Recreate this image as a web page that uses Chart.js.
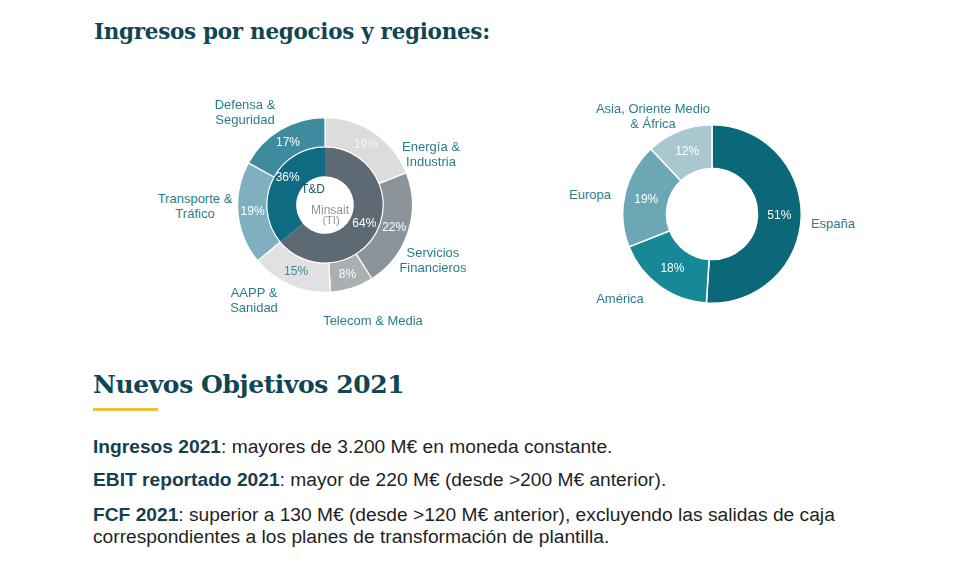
<!DOCTYPE html>
<html lang="es">
<head>
<meta charset="utf-8">
<title>Ingresos por negocios y regiones</title>
<script src="https://cdn.jsdelivr.net/npm/chart.js@4.4.1/dist/chart.umd.min.js"></script>
<style>
  html, body { margin: 0; padding: 0; background: #fff; }
  #page { position: relative; width: 959px; height: 567px; overflow: hidden; font-family: "Liberation Sans", Arial, sans-serif; }
  h1, h2 { position: absolute; margin: 0; font-family: "DejaVu Serif", Georgia, serif; font-weight: bold; color: #0f4654; white-space: nowrap; }
  h1 { left: 94px; top: 19px; font-size: 21.5px; letter-spacing: -0.3px; }
  h2 { left: 93px; top: 370px; font-size: 25px; letter-spacing: -0.4px; }
  .rule { position: absolute; left: 93px; top: 408px; width: 65px; height: 3px; background: #f2bf35; }
  canvas { position: absolute; }
  .lbl { position: absolute; transform: translate(-50%, -50%); text-align: center; color: #2b7d8c; font-size: 13px; line-height: 15px; white-space: nowrap; }
  .body { position: absolute; left: 93px; font-size: 19.2px; color: #1f1f1f; white-space: nowrap; line-height: 22px; }
  .body b { color: #16404d; }
</style>
</head>
<body>
<div id="page">
  <h1>Ingresos por negocios y regiones:</h1>

  <canvas id="negocios" width="176" height="176" style="left:237px;top:117px"></canvas>
  <canvas id="regiones" width="180" height="180" style="left:622px;top:124px"></canvas>

  <div class="lbl" style="left:245px;top:112px">Defensa &amp;<br>Seguridad</div>
  <div class="lbl" style="left:431px;top:154px">Energía &amp;<br>Industria</div>
  <div class="lbl" style="left:195px;top:206px">Transporte &amp;<br>Tráfico</div>
  <div class="lbl" style="left:433px;top:260px">Servicios<br>Financieros</div>
  <div class="lbl" style="left:254px;top:300px">AAPP &amp;<br>Sanidad</div>
  <div class="lbl" style="left:373px;top:320px">Telecom &amp; Media</div>

  <div class="lbl" style="left:653px;top:116px">Asia, Oriente Medio<br>&amp; África</div>
  <div class="lbl" style="left:590px;top:194px">Europa</div>
  <div class="lbl" style="left:833px;top:223px">España</div>
  <div class="lbl" style="left:620px;top:298px">América</div>

  <h2>Nuevos Objetivos 2021</h2>
  <div class="rule"></div>

  <div class="body" style="top:436px"><b>Ingresos 2021</b>: mayores de 3.200 M€ en moneda constante.</div>
  <div class="body" style="top:469px"><b>EBIT reportado 2021</b>: mayor de 220 M€ (desde &gt;200 M€ anterior).</div>
  <div class="body" style="top:504px"><b>FCF 2021</b>: superior a 130 M€ (desde &gt;120 M€ anterior), excluyendo las salidas de caja<br>correspondientes a los planes de transformación de plantilla.</div>
</div>

<script>
// Ingresos por negocio (anillo exterior), clockwise from 12 o'clock
const negocioLabels = ['Energía & Industria', 'Servicios Financieros', 'Telecom & Media', 'AAPP & Sanidad', 'Transporte & Tráfico', 'Defensa & Seguridad'];
const negocioValues = [19, 22, 8, 15, 19, 17];

// Segmentos (anillo interior)
const segmentoLabels = ['Minsait (TI)', 'T&D'];
const segmentoValues = [64, 36];

// Ingresos por región
const regionLabels = ['España', 'América', 'Europa', 'Asia, Oriente Medio & África'];
const regionValues = [51, 18, 19, 12];

const negocioColors = ['#dcdcdc', '#8a949a', '#aaafb2', '#e1e1e1', '#80b0c0', '#3f8b9e'];
const negocioText = ['#f6f6f6', '#ffffff', '#ffffff', '#3a8a9c', '#ffffff', '#ffffff'];
const segmentoColors = ['#5e6a73', '#0e6b82'];
const regionColors = ['#0b6878', '#168898', '#6ca7b5', '#a9c7ce'];

// writes the % value in the middle of each arc
const pctLabels = {
  id: 'pctLabels',
  afterDatasetsDraw(chart) {
    const ctx = chart.ctx;
    ctx.save();
    ctx.font = '12px "Liberation Sans", Arial, sans-serif';
    ctx.textAlign = 'center';
    ctx.textBaseline = 'middle';
    chart.data.datasets.forEach((ds, i) => {
      const meta = chart.getDatasetMeta(i);
      meta.data.forEach((arc, j) => {
        const p = arc.getCenterPoint();
        const dx = (ds.pctShift && ds.pctShift[j]) ? ds.pctShift[j][0] : 0;
        const dy = (ds.pctShift && ds.pctShift[j]) ? ds.pctShift[j][1] : 0;
        ctx.fillStyle = ds.textColors ? ds.textColors[j] : '#fff';
        ctx.fillText(ds.data[j] + '%', p.x + dx, p.y + dy);
      });
    });
    ctx.restore();
  }
};

// small captions inside the hole of the business chart
const holeText = {
  id: 'holeText',
  afterDatasetsDraw(chart) {
    const ctx = chart.ctx;
    const arc = chart.getDatasetMeta(0).data[0];
    const cx = arc.x, cy = arc.y;
    ctx.save();
    ctx.font = '12px "Liberation Sans", Arial, sans-serif';
    ctx.textAlign = 'center';
    ctx.textBaseline = 'middle';
    ctx.fillStyle = '#1f5663';
    ctx.fillText(segmentoLabels[1], cx - 12, cy - 15);
    ctx.fillStyle = '#8b949a';
    ctx.fillText('Minsait', cx + 5, cy + 6);
    ctx.font = '11px "Liberation Sans", Arial, sans-serif';
    ctx.fillText('(TI)', cx + 6, cy + 16);
    ctx.restore();
  }
};

const baseOptions = {
  responsive: false,
  animation: false,
  events: [],
  layout: { padding: 0 },
  plugins: { legend: { display: false }, tooltip: { enabled: false } }
};

new Chart(document.getElementById('negocios'), {
  type: 'doughnut',
  data: {
    labels: negocioLabels,
    datasets: [
      {
        data: negocioValues,
        backgroundColor: negocioColors,
        textColors: negocioText,
        borderColor: '#ffffff',
        borderWidth: 1.2,
        weight: 1
      },
      {
        data: segmentoValues,
        backgroundColor: segmentoColors,
        borderColor: segmentoColors,
        borderWidth: 0,
        pctShift: [[0, 0], [2, -9]],
        weight: 1
      }
    ]
  },
  options: Object.assign({}, baseOptions, { cutout: '33%' }),
  plugins: [pctLabels, holeText]
});

new Chart(document.getElementById('regiones'), {
  type: 'doughnut',
  data: {
    labels: regionLabels,
    datasets: [{
      data: regionValues,
      backgroundColor: regionColors,
      borderColor: '#ffffff',
      borderWidth: 1.5
    }]
  },
  options: Object.assign({}, baseOptions, { cutout: '51%' }),
  plugins: [pctLabels]
});
</script>
</body>
</html>
